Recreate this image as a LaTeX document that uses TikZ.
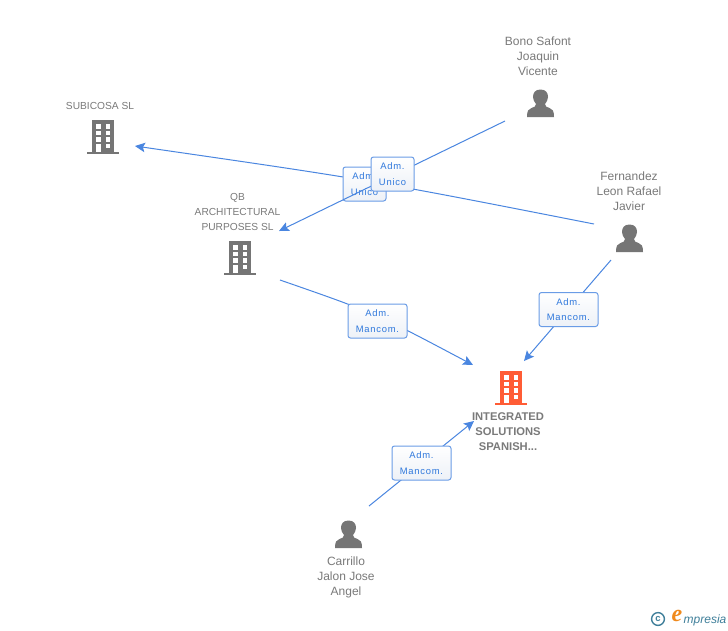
\documentclass[tikz,border=0pt]{standalone}
\usepackage{fontspec}
\setmainfont{Liberation Sans}
\newfontfamily\labfont[LetterSpace=8]{Liberation Sans}
\newfontfamily\logofont{Liberation Serif}
\usetikzlibrary{arrows.meta}
\definecolor{txtgray}{HTML}{7A7A7A}
\definecolor{icongray}{HTML}{757575}
\definecolor{hot}{HTML}{FF5C35}
\definecolor{linkblue}{HTML}{4A86E0}
\definecolor{boxedge}{HTML}{6A9CE6}
\definecolor{labtext}{HTML}{2F78DC}
\definecolor{boxfill}{HTML}{EDF1F7}
\definecolor{logoteal}{HTML}{3F7F9A}
\definecolor{logoorange}{HTML}{F08A1D}
\tikzset{
  x=1pt,y=-1pt,
  conn/.style={draw=linkblue,line width=1pt,-{Stealth[length=10pt,width=9.5pt,inset=2pt]}},
  lab/.style={draw=boxedge,line width=1pt,rounded corners=2.5pt,top color=white,bottom color=boxfill,
    inner sep=0pt,font=\labfont\fontsize{9.4}{15.5}\selectfont,text=labtext,align=center},
  labu/.style={lab,minimum width=43pt,minimum height=34pt},
  labm/.style={lab,minimum width=59pt,minimum height=34pt},
  captxt/.style={inner sep=0pt,text=txtgray,align=center,font=\fontsize{10.2}{15}\selectfont},
  capn/.style={inner sep=0pt,text=txtgray,align=center,font=\fontsize{12}{15}\selectfont},
  capb/.style={inner sep=0pt,text=txtgray,align=center,font=\bfseries\fontsize{11.2}{15}\selectfont},
  pics/building/.style={code={
    \fill[#1] (-11,-34) rectangle (11,-2);
    \fill[#1] (-16,-2) rectangle (16,0);
    \foreach \wy in {-30,-23.5,-17}{
      \fill[white] (-7,\wy) rectangle (-2.5,\wy+4.5);
      \fill[white] (2.5,\wy) rectangle (7,\wy+4.5);
    }
    \fill[white] (-7,-10.5) rectangle (-2.5,-2);
    \fill[white] (2.5,-10.5) rectangle (7,-6);
  }},
  pics/person/.style={code={
    \fill[icongray] (0,-27.5) .. controls (-5.5,-27.5) and (-7.5,-24) .. (-7.5,-20)
      .. controls (-7.5,-17) and (-6,-15) .. (-4.5,-13)
      .. controls (-4.5,-10.5) and (-6,-10) .. (-9,-9)
      .. controls (-12,-8) and (-13.5,-6.5) .. (-13.5,0)
      -- (13.5,0)
      .. controls (13.5,-6.5) and (12,-8) .. (9,-9)
      .. controls (6,-10) and (4.5,-10.5) .. (4.5,-13)
      .. controls (6,-15) and (7.5,-17) .. (7.5,-20)
      .. controls (7.5,-24) and (5.5,-27.5) .. (0,-27.5) -- cycle;
  }}
}
\begin{document}
\begin{tikzpicture}
\useasboundingbox (0,0) rectangle (728,630);
\fill[white] (0,0) rectangle (728,630);
% free ends of the connectors
\coordinate (bonoOut) at (505,121);
\coordinate (qbIn) at (279,231);
\coordinate (ferOutA) at (594,224);
\coordinate (subIn) at (135,146);
\coordinate (qbOut) at (280,280);
\coordinate (targetA) at (473,365);
\coordinate (ferOutB) at (611,260);
\coordinate (targetB) at (524,361);
\coordinate (carOut) at (369,506);
\coordinate (targetC) at (474,421);
% connectors with their labels
\draw[conn] (ferOutA) .. controls (370,180) .. (subIn)
  node[labu,at={(364.5,184)}] (l1) {Adm.\\Unico};
\draw[conn] (bonoOut) -- (qbIn)
  node[labu,at={(392.5,174)}] (l2) {Adm.\\Unico};
\draw[conn] (qbOut) .. controls (375,313) .. (targetA)
  node[labm,at={(377.5,321)}] (l3) {Adm.\\Mancom.};
\draw[conn] (ferOutB) -- (targetB)
  node[labm,at={(568.5,309.5)}] (l4) {Adm.\\Mancom.};
\draw[conn] (carOut) -- (targetC)
  node[labm,at={(421.5,463)}] (l5) {Adm.\\Mancom.};
% icons
\pic at (103,154) {building=icongray};
\pic at (240,275) {building=icongray};
\pic at (511,405) {building=hot};
\pic at (540.5,117) {person};
\pic at (629.5,252) {person};
\pic at (348.5,548) {person};
% captions
\node[captxt] (subicosa) at (100,106) {SUBICOSA SL};
\node[captxt] (qb) at (237.5,212) {QB\\ARCHITECTURAL\\PURPOSES SL};
\node[capn] (bono) at (538,56) {Bono Safont\\Joaquin\\Vicente};
\node[capn] (fern) at (629,191) {Fernandez\\Leon Rafael\\Javier};
\node[capn] (carr) at (346,577) {Carrillo\\Jalon Jose\\Angel};
\node[capb] (main) at (508,432) {INTEGRATED\\SOLUTIONS\\SPANISH...};
% logo
\draw[logoteal,line width=1.4pt] (658,619) circle (6.4);
\node[inner sep=0pt,text=logoteal,font=\bfseries\fontsize{9.5}{9.5}\selectfont] (copy) at (658,618.6) {c};
\node[inner sep=0pt,text=logoorange,font=\logofont\itshape\bfseries\fontsize{24}{24}\selectfont] (logoe) at (677,616) {e};
\node[inner sep=0pt,anchor=base west,text=logoteal,font=\itshape\fontsize{12}{12}\selectfont] (logotxt) at (683.5,623) {mpresia};
\end{tikzpicture}
\end{document}
